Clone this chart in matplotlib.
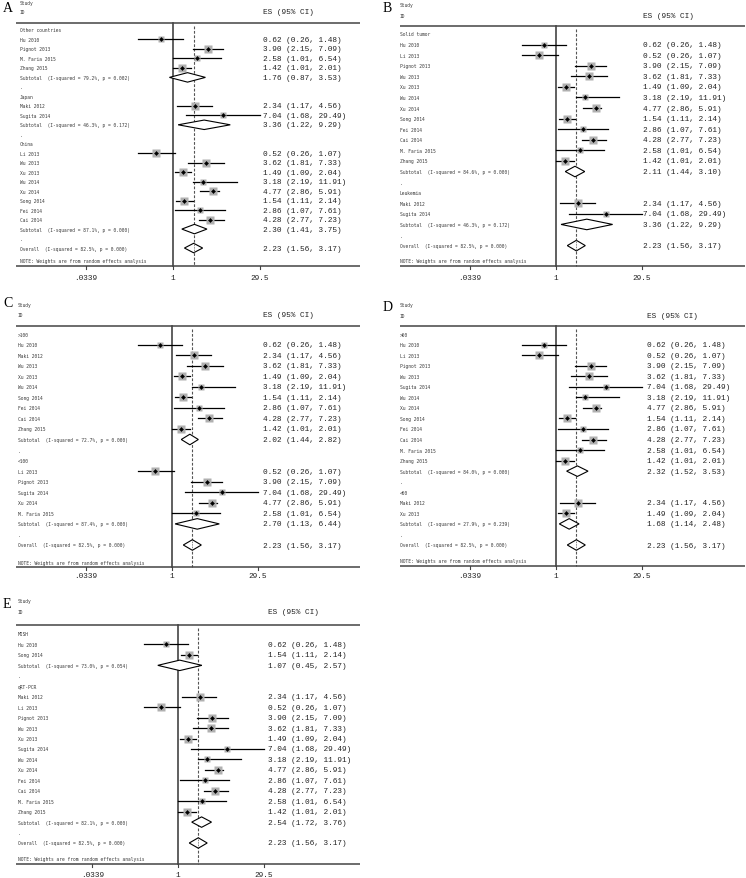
import numpy as np
import matplotlib
matplotlib.use("Agg")
import matplotlib.pyplot as plt
from matplotlib.patches import Polygon
from matplotlib.transforms import blended_transform_factory

# ---------------- data ----------------
study_names = ["Hu 2010", "Maki 2012", "Li 2013", "Pignot 2013", "Wu 2013", "Xu 2013",
               "Sugita 2014", "Wu 2014", "Xu 2014", "Song 2014", "Fei 2014", "Cai 2014",
               "M. Faria 2015", "Zhang 2015"]
study_es = [0.62, 2.34, 0.52, 3.90, 3.62, 1.49, 7.04, 3.18, 4.77, 1.54, 2.86, 4.28, 2.58, 1.42]
study_lo = [0.26, 1.17, 0.26, 2.15, 1.81, 1.09, 1.68, 2.19, 2.86, 1.11, 1.07, 2.77, 1.01, 1.01]
study_hi = [1.48, 4.56, 1.07, 7.09, 7.33, 2.04, 29.49, 11.91, 5.91, 2.14, 7.61, 7.23, 6.54, 2.01]

overall_es, overall_lo, overall_hi = 2.23, 1.56, 3.17
overall_i2, overall_p = "82.5%", "0.000"

# Panel A: country
A_groups = ["Other countries", "Japan", "China"]
A_members = [["Hu 2010", "Pignot 2013", "M. Faria 2015", "Zhang 2015"],
             ["Maki 2012", "Sugita 2014"],
             ["Li 2013", "Wu 2013", "Xu 2013", "Wu 2014", "Xu 2014", "Song 2014", "Fei 2014", "Cai 2014"]]
A_sub_es = [1.76, 3.36, 2.30]
A_sub_lo = [0.87, 1.22, 1.41]
A_sub_hi = [3.53, 9.29, 3.75]
A_sub_i2 = ["79.2%", "46.3%", "87.1%"]
A_sub_p = ["0.002", "0.172", "0.000"]

# Panel B: tumor type
B_groups = ["Solid tumor", "Leukemia"]
B_members = [["Hu 2010", "Li 2013", "Pignot 2013", "Wu 2013", "Xu 2013", "Wu 2014", "Xu 2014",
              "Song 2014", "Fei 2014", "Cai 2014", "M. Faria 2015", "Zhang 2015"],
             ["Maki 2012", "Sugita 2014"]]
B_sub_es = [2.11, 3.36]
B_sub_lo = [1.44, 1.22]
B_sub_hi = [3.10, 9.29]
B_sub_i2 = ["84.6%", "46.3%"]
B_sub_p = ["0.000", "0.172"]

# Panel C: sample size
C_groups = [">100", "<100"]
C_members = [["Hu 2010", "Maki 2012", "Wu 2013", "Xu 2013", "Wu 2014", "Song 2014", "Fei 2014",
              "Cai 2014", "Zhang 2015"],
             ["Li 2013", "Pignot 2013", "Sugita 2014", "Xu 2014", "M. Faria 2015"]]
C_sub_es = [2.02, 2.70]
C_sub_lo = [1.44, 1.13]
C_sub_hi = [2.82, 6.44]
C_sub_i2 = ["72.7%", "87.4%"]
C_sub_p = ["0.000", "0.000"]

# Panel D: follow-up
D_groups = [">60", "<60"]
D_members = [["Hu 2010", "Li 2013", "Pignot 2013", "Wu 2013", "Sugita 2014", "Wu 2014", "Xu 2014",
              "Song 2014", "Fei 2014", "Cai 2014", "M. Faria 2015", "Zhang 2015"],
             ["Maki 2012", "Xu 2013"]]
D_sub_es = [2.32, 1.68]
D_sub_lo = [1.52, 1.14]
D_sub_hi = [3.53, 2.48]
D_sub_i2 = ["84.0%", "27.9%"]
D_sub_p = ["0.000", "0.239"]

# Panel E: detection method
E_groups = ["MISH", "qRT-PCR"]
E_members = [["Hu 2010", "Song 2014"],
             ["Maki 2012", "Li 2013", "Pignot 2013", "Wu 2013", "Xu 2013", "Sugita 2014", "Wu 2014",
              "Xu 2014", "Fei 2014", "Cai 2014", "M. Faria 2015", "Zhang 2015"]]
E_sub_es = [1.07, 2.54]
E_sub_lo = [0.45, 1.72]
E_sub_hi = [2.57, 3.76]
E_sub_i2 = ["73.0%", "82.1%"]
E_sub_p = ["0.054", "0.000"]

tick_vals = [0.0339, 1, 29.5]
tick_labels = [".0339", "1", "29.5"]

# ---------------- layout ----------------
W, H = 746, 879
fig = plt.figure(figsize=(W / 100, H / 100), dpi=100)

SMALL = dict(family="DejaVu Sans Mono", fontsize=3.3, color="#3a3a3a")
BIG = dict(family="Liberation Mono", fontsize=5.6, color="#222222")
LETTER = dict(family="Liberation Serif", fontsize=10, color="black")

panels = [
    dict(letter="A", groups=A_groups, members=A_members, ses=A_sub_es, slo=A_sub_lo, shi=A_sub_hi,
         si2=A_sub_i2, sp=A_sub_p, region=(0, 370, 0, 295), px1=173, s=25.7, y0=31, dy=9.48,
         note_y=262, axis_y=267, tick_y=278, hdr_y=24, study_y=3, id_y=12, lx0=16, lx1=360,
         label_x=20, val_x=263, letter_xy=(3, 8)),
    dict(letter="B", groups=B_groups, members=B_members, ses=B_sub_es, slo=B_sub_lo, shi=B_sub_hi,
         si2=B_sub_i2, sp=B_sub_p, region=(370, 746, 0, 295), px1=556, s=25.4, y0=35, dy=10.58,
         note_y=262, axis_y=267, tick_y=278, hdr_y=27, study_y=5, id_y=16, lx0=400, lx1=745,
         label_x=400, val_x=643, letter_xy=(383, 8)),
    dict(letter="C", groups=C_groups, members=C_members, ses=C_sub_es, slo=C_sub_lo, shi=C_sub_hi,
         si2=C_sub_i2, sp=C_sub_p, region=(0, 370, 295, 595), px1=172, s=25.4, y0=335, dy=10.55,
         note_y=564, axis_y=567.5, tick_y=577, hdr_y=327, study_y=305, id_y=315, lx0=16, lx1=360,
         label_x=18, val_x=263, letter_xy=(3, 303)),
    dict(letter="D", groups=D_groups, members=D_members, ses=D_sub_es, slo=D_sub_lo, shi=D_sub_hi,
         si2=D_sub_i2, sp=D_sub_p, region=(370, 746, 295, 595), px1=556, s=25.4, y0=335, dy=10.55,
         note_y=562, axis_y=567, tick_y=577, hdr_y=327, study_y=305, id_y=316, lx0=400, lx1=745,
         label_x=400, val_x=647, letter_xy=(383, 307)),
    dict(letter="E", groups=E_groups, members=E_members, ses=E_sub_es, slo=E_sub_lo, shi=E_sub_hi,
         si2=E_sub_i2, sp=E_sub_p, region=(0, 370, 595, 879), px1=178, s=25.3, y0=635, dy=10.45,
         note_y=860, axis_y=865, tick_y=876, hdr_y=626, study_y=602, id_y=613, lx0=16, lx1=360,
         label_x=18, val_x=268, letter_xy=(3, 605)),
]

idx = {n: i for i, n in enumerate(study_names)}
TAU2 = 0.4


def fmt(es, lo, hi):
    return f"{es:.2f} ({lo:.2f}, {hi:.2f})"


for P in panels:
    left, right, top, bottom = P["region"]
    ax = fig.add_axes([left / W, 1 - bottom / H, (right - left) / W, (bottom - top) / H])
    ax.set_xscale("log")
    ax.set_xlim(np.exp((left - P["px1"]) / P["s"]), np.exp((right - P["px1"]) / P["s"]))
    ax.set_ylim(bottom, top)
    ax.axis("off")
    bt = blended_transform_factory(ax.transAxes, ax.transData)

    def fx(px):
        return (px - left) / (right - left)

    # letter and headers
    ax.text(fx(P["letter_xy"][0]), P["letter_xy"][1], P["letter"], transform=bt,
            ha="left", va="center", **LETTER)
    ax.text(fx(P["label_x"]), P["study_y"], "Study", transform=bt, ha="left", va="center", **SMALL)
    ax.text(fx(P["label_x"]), P["id_y"], "ID", transform=bt, ha="left", va="center", **SMALL)
    ax.text(fx(P["val_x"]), P["id_y"], "ES (95% CI)", transform=bt, ha="left", va="center", **BIG)
    ax.plot([fx(P["lx0"]), fx(P["lx1"])], [P["hdr_y"], P["hdr_y"]], transform=bt,
            color="#444444", lw=1.1, solid_capstyle="butt")

    # build rows
    rows = []
    for g, (gname, mem) in enumerate(zip(P["groups"], P["members"])):
        rows.append(("head", gname))
        for m in mem:
            rows.append(("study", m))
        rows.append(("sub", g))
        rows.append(("dot", None))
    rows.append(("overall", None))

    # reference lines
    ax.plot([1, 1], [P["hdr_y"], P["axis_y"]], color="#444444", lw=1.2, zorder=1)
    ax.plot([overall_es, overall_es], [P["hdr_y"] + 3, P["axis_y"]], color="#555555",
            lw=0.8, ls=(0, (2.5, 1.5)), zorder=1)

    h = P["dy"] * 0.5
    for r, (kind, val) in enumerate(rows):
        y = P["y0"] + r * P["dy"]
        if kind == "head":
            ax.text(fx(P["label_x"]), y, val, transform=bt, ha="left", va="center", **SMALL)
        elif kind == "dot":
            ax.text(fx(P["label_x"]), y, ".", transform=bt, ha="left", va="center", **SMALL)
        elif kind == "study":
            i = idx[val]
            es, lo, hi = study_es[i], study_lo[i], study_hi[i]
            se = (np.log(hi) - np.log(lo)) / 3.92
            w = 1.0 / (se ** 2 + TAU2)
            side_px = 5.2 * np.sqrt(w)
            ax.plot([lo, hi], [y, y], color="black", lw=0.9, zorder=2)
            ax.plot([es], [y], marker="s", ms=side_px * 0.72, mfc="#b0b0b0", mec="none", zorder=3)
            ax.plot([es], [y], marker="D", ms=2.1, mfc="black", mec="black", mew=0.3, zorder=4)
            ax.text(fx(P["label_x"]), y, val, transform=bt, ha="left", va="center", **SMALL)
            ax.text(fx(P["val_x"]), y, fmt(es, lo, hi), transform=bt, ha="left", va="center", **BIG)
        elif kind == "sub":
            es, lo, hi = P["ses"][val], P["slo"][val], P["shi"][val]
            poly = Polygon([(lo, y), (es, y - h), (hi, y), (es, y + h)], closed=True,
                           facecolor="white", edgecolor="black", lw=0.8, zorder=3)
            ax.add_patch(poly)
            ax.text(fx(P["label_x"]), y,
                    f"Subtotal  (I-squared = {P['si2'][val]}, p = {P['sp'][val]})",
                    transform=bt, ha="left", va="center", **SMALL)
            ax.text(fx(P["val_x"]), y, fmt(es, lo, hi), transform=bt, ha="left", va="center", **BIG)
        elif kind == "overall":
            es, lo, hi = overall_es, overall_lo, overall_hi
            poly = Polygon([(lo, y), (es, y - h), (hi, y), (es, y + h)], closed=True,
                           facecolor="white", edgecolor="black", lw=0.8, zorder=3)
            ax.add_patch(poly)
            ax.plot([es, es], [y - h, y + h], color="#555555", lw=0.6, ls=(0, (1, 1)), zorder=4)
            ax.text(fx(P["label_x"]), y,
                    f"Overall  (I-squared = {overall_i2}, p = {overall_p})",
                    transform=bt, ha="left", va="center", **SMALL)
            ax.text(fx(P["val_x"]), y, fmt(es, lo, hi), transform=bt, ha="left", va="center", **BIG)

    ax.text(fx(P["label_x"]), P["note_y"], "NOTE: Weights are from random effects analysis",
            transform=bt, ha="left", va="center", **SMALL)

    # bottom axis
    ax.plot([fx(P["lx0"]), fx(P["lx1"])], [P["axis_y"], P["axis_y"]], transform=bt,
            color="#444444", lw=1.1, solid_capstyle="butt")
    for tv, tl in zip(tick_vals, tick_labels):
        ax.plot([tv, tv], [P["axis_y"], P["axis_y"] + 3], color="#444444", lw=0.8)
        ax.text(tv, P["tick_y"], tl, ha="center", va="center", **BIG)

fig.savefig("out.png", dpi=100, facecolor="white")
